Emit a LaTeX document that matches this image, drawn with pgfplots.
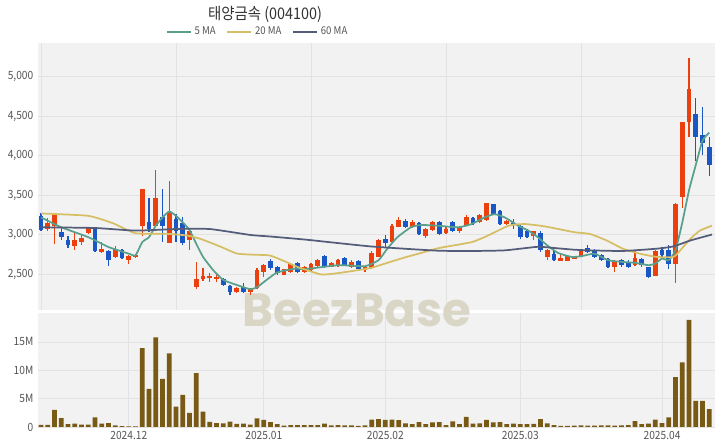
\documentclass[border=0pt]{standalone}
\usepackage{fontspec}
\setmainfont{Noto Sans CJK KR}[FakeStretch=0.9]
\newfontfamily\wmfont{Poppins}
\usepackage{pgfplots}
\usepackage{pgfplotstable}
\pgfplotsset{compat=1.18}

\definecolor{upred}{RGB}{235,64,14}
\definecolor{downblue}{RGB}{26,86,196}
\definecolor{ma5}{RGB}{88,160,140}
\definecolor{ma20}{RGB}{214,190,100}
\definecolor{ma60}{RGB}{84,92,122}
\definecolor{volc}{RGB}{120,90,20}
\definecolor{panelbg}{RGB}{242,242,242}
\definecolor{gridc}{RGB}{226,226,226}
\definecolor{labc}{RGB}{85,85,85}
\definecolor{wmc}{RGB}{218,214,198}

% i = trading day, o h l c = price, v = volume (millions)
\pgfplotstableread{
i o h l c v
0 3237 3279 3050 3058 0.36
1 3071 3208 3050 3142 0.36
2 3104 3258 2883 3250 3.0
3 3037 3100 2925 2967 1.55
4 2925 2987 2833 2862 0.5
5 2854 3029 2808 2925 0.6
6 2908 3008 2867 2958 0.4
7 3017 3092 3008 3079 0.4
8 3083 3092 2775 2792 1.7
9 2779 2904 2771 2821 0.6
10 2792 2808 2608 2675 0.7
11 2717 2850 2708 2821 0.3
12 2808 2817 2696 2708 0.15
13 2683 2737 2625 2725 0.1
14 2717 2750 2708 2737 0.1
15 3112 3571 2987 3571 13.9
16 3154 3467 3029 3071 6.7
17 3104 3817 3092 3467 15.8
18 3225 3571 2904 3112 8.5
19 2892 3677 2892 3279 13.0
20 3196 3258 2904 3042 3.6
21 3142 3217 2871 2892 5.65
22 2925 3050 2808 3042 2.5
23 2340 2654 2308 2435 9.5
24 2433 2571 2417 2475 2.7
25 2446 2508 2404 2475 0.9
26 2433 2508 2404 2467 0.7
27 2433 2446 2350 2362 0.65
28 2350 2362 2237 2267 0.95
29 2279 2333 2258 2321 0.55
30 2342 2392 2258 2271 0.6
31 2267 2321 2237 2308 0.4
32 2321 2571 2308 2550 1.5
33 2529 2625 2467 2612 1.25
34 2667 2696 2550 2579 0.85
35 2592 2600 2487 2508 0.5
36 2487 2567 2483 2558 0.25
37 2521 2635 2510 2625 0.35
38 2642 2654 2508 2529 0.35
39 2529 2600 2512 2583 0.35
40 2550 2640 2540 2625 0.35
41 2600 2690 2592 2675 0.35
42 2725 2737 2571 2592 0.6
43 2592 2654 2583 2642 0.3
44 2600 2690 2590 2675 0.35
45 2708 2717 2600 2612 0.3
46 2592 2675 2571 2654 0.3
47 2667 2680 2550 2558 0.2
48 2550 2608 2529 2592 0.3
49 2571 2792 2558 2767 1.3
50 2717 2940 2710 2925 1.4
51 2950 2990 2830 2890 1.25
52 2904 3133 2900 3112 1.3
53 3100 3217 3092 3183 1.2
54 3175 3196 3083 3092 0.65
55 3092 3183 3085 3154 0.5
56 3142 3154 2996 3008 0.85
57 2987 3080 2958 3071 0.5
58 3058 3175 3042 3154 0.8
59 3154 3167 2996 3008 0.85
60 3017 3100 3008 3071 0.35
61 3154 3167 3029 3042 1.0
62 3042 3100 3025 3092 0.5
63 3112 3250 3104 3217 1.8
64 3204 3217 3125 3142 0.6
65 3154 3258 3146 3250 0.65
66 3183 3404 3175 3396 1.25
67 3383 3392 3250 3258 0.8
68 3300 3308 3125 3133 0.85
69 3133 3187 3125 3175 0.5
70 3150 3196 3070 3120 0.6
71 3112 3125 2946 2967 0.5
72 3050 3071 2958 2975 0.5
73 2987 3050 2933 3042 0.55
74 3025 3050 2779 2810 1.4
75 2717 2821 2683 2800 0.65
76 2750 2800 2665 2675 0.35
77 2667 2750 2665 2708 0.2
78 2667 2730 2660 2725 0.2
79 2695 2720 2690 2712 0.25
80 2725 2800 2720 2792 0.3
81 2833 2862 2767 2779 0.25
82 2800 2821 2708 2717 0.25
83 2737 2758 2667 2675 0.3
84 2696 2708 2575 2592 0.3
85 2592 2675 2529 2667 0.25
86 2675 2696 2583 2612 0.3
87 2654 2675 2575 2583 0.35
88 2612 2800 2600 2708 1.05
89 2696 2708 2592 2612 0.5
90 2583 2592 2450 2458 0.6
91 2475 2800 2470 2792 1.3
92 2808 2842 2717 2737 0.7
93 2800 2862 2558 2633 1.7
94 2633 3404 2383 3383 8.8
95 3479 4425 3331 4425 11.4
96 4428 5231 4230 4838 18.9
97 4526 4725 3936 4240 4.6
98 4261 4619 4006 4163 4.6
99 4113 4239 3741 3880 3.15
}\candles

\begin{document}
\begin{tikzpicture}
\path[use as bounding box, fill=white] (0,0) rectangle (540pt,336pt);

% volume panel
\begin{axis}[
  at={(28.5pt,15.75pt)}, anchor=south west, scale only axis,
  width=507.75pt, height=85.5pt,
  xmin=-0.45, xmax=99.85, ymin=0, ymax=20.1,
  axis background/.style={fill=panelbg},
  axis line style={draw=none}, tick style={draw=none},
  xtick={13,33,51,71,92},
  xticklabels={2024.12,2025.01,2025.02,2025.03,2025.04},
  ytick={0,5,10,15}, yticklabels={0,5M,10M,15M},
  grid=major, major grid style={gridc, line width=0.6pt},
  tick label style={font=\fontsize{8.5}{9}\selectfont, text=labc},
]
\addplot[ybar, bar width=0.68, fill=volc, draw=none] table[x=i, y=v] {\candles};
\end{axis}

% price panel
\begin{axis}[
  at={(28.5pt,103.5pt)}, anchor=south west, scale only axis,
  width=507.75pt, height=200.25pt,
  xmin=-0.45, xmax=99.85, ymin=2045, ymax=5425,
  clip=false,
  axis background/.style={fill=panelbg},
  axis line style={draw=none}, tick style={draw=none},
  xtick={0,20,40,60,80}, xticklabels={},
  ytick={2500,3000,3500,4000,4500,5000},
  grid=major, major grid style={gridc, line width=0.6pt},
  tick label style={font=\fontsize{8.5}{9}\selectfont, text=labc},
  /pgf/number format/.cd, 1000 sep={,}, assume math mode=true, /pgfplots/.cd,
  legend style={at={(0.325,1.041)}, anchor=center, draw=none, fill=none,
    legend columns=3, font=\fontsize{8}{9}\selectfont, text=labc,
    /tikz/every even column/.append style={column sep=6pt}},
  legend image code/.code={\draw[#1, line width=1.5pt] (0pt,0pt) -- (18pt,0pt);},
]
\node[anchor=base, font=\wmfont\bfseries\fontsize{35}{35}\selectfont, text=wmc]
  at (axis cs:46.8,1830) {BeezBase};

% wicks
\addplot[forget plot, draw=none, mark=none,
  error bars/.cd, y dir=both, y explicit, error mark=none,
  error bar style={draw=upred, line width=1pt}]
  table[x=i, y expr={\thisrow{c}>=\thisrow{o} ? (\thisrow{h}+\thisrow{l})/2 : nan},
        y error expr={(\thisrow{h}-\thisrow{l})/2}] {\candles};
\addplot[forget plot, draw=none, mark=none,
  error bars/.cd, y dir=both, y explicit, error mark=none,
  error bar style={draw=downblue, line width=1pt}]
  table[x=i, y expr={\thisrow{c}<\thisrow{o} ? (\thisrow{h}+\thisrow{l})/2 : nan},
        y error expr={(\thisrow{h}-\thisrow{l})/2}] {\candles};
% bodies
\addplot[forget plot, draw=none, mark=none,
  error bars/.cd, y dir=both, y explicit, error mark=none,
  error bar style={draw=upred, line width=3.5pt}]
  table[x=i, y expr={\thisrow{c}>=\thisrow{o} ? (\thisrow{o}+\thisrow{c})/2 : nan},
        y error expr={max(abs(\thisrow{c}-\thisrow{o})/2,6)}] {\candles};
\addplot[forget plot, draw=none, mark=none,
  error bars/.cd, y dir=both, y explicit, error mark=none,
  error bar style={draw=downblue, line width=3.5pt}]
  table[x=i, y expr={\thisrow{c}<\thisrow{o} ? (\thisrow{o}+\thisrow{c})/2 : nan},
        y error expr={max(abs(\thisrow{c}-\thisrow{o})/2,6)}] {\candles};

% moving averages
\addplot[ma5, line width=1.3pt, smooth, tension=0.3] coordinates {
(0,3217)(3,3092)(7,2967)(10,2842)(13,2758)(14,2737)(15,2904)(16,2967)(17,3112)
(18,3217)(19,3292)(20,3237)(21,3154)(22,3058)(23,2883)(24,2717)(25.5,2550)
(27,2425)(29,2362)(31,2308)(32,2333)(33.4,2425)(34.9,2517)(36.4,2550)(37.9,2571)
(39,2560)(44,2612)(48,2600)(50,2675)(51.3,2821)(52.8,2967)(54.8,3092)(56.3,3121)
(58.8,3112)(61.8,3092)(63.8,3133)(65.7,3217)(67.2,3258)(68.7,3217)(70.7,3112)
(72.2,3050)(73.6,2967)(75,2862)(76.6,2767)(78.6,2717)(80,2725)(82,2758)(84,2675)
(86,2654)(88,2642)(90,2612)(91,2633)(92,2696)(93,2675)(94,2800)(95,3150)
(96,3560)(97,3880)(98,4190)(99,4290)};
\addlegendentry{5 MA}
\addplot[ma20, line width=1.3pt, smooth, tension=0.3] coordinates {
(0,3267)(7,3237)(10.7,3142)(14,3017)(19,3008)(21.7,2987)(23.6,2946)(26.5,2850)
(29,2760)(31.4,2745)(33.9,2735)(36.4,2650)(38,2590)(41.5,2495)(44,2512)(46.4,2542)
(48.8,2575)(51.3,2642)(53.8,2708)(56.3,2767)(59,2830)(63.8,2904)(66.2,2987)
(68.7,3092)(69.7,3121)(71.7,3133)(74.6,3104)(79,3030)(81.3,3008)(83.8,2925)
(86.2,2821)(88.7,2758)(91.2,2717)(93.7,2717)(94.7,2800)(96.2,2946)(97.6,3050)
(99.4,3112)};
\addlegendentry{20 MA}
\addplot[ma60, line width=1.3pt, smooth, tension=0.3] coordinates {
(0,3092)(8,3083)(14,3050)(20,3070)(25,3070)(31,2995)(34,2975)(39.3,2935)(44,2892)
(48.8,2850)(53.8,2821)(59,2795)(63.8,2792)(68.7,2800)(73.6,2845)(76,2830)(79,2808)
(81.3,2800)(86.2,2792)(91.2,2821)(93.7,2850)(96.2,2925)(99.4,3000)};
\addlegendentry{60 MA}
\end{axis}

\node[font=\fontsize{12}{13}\selectfont, text={rgb,255:red,51;green,51;blue,51}]
  at (198.75pt,325.5pt) {태양금속 (004100)};
\end{tikzpicture}
\end{document}
